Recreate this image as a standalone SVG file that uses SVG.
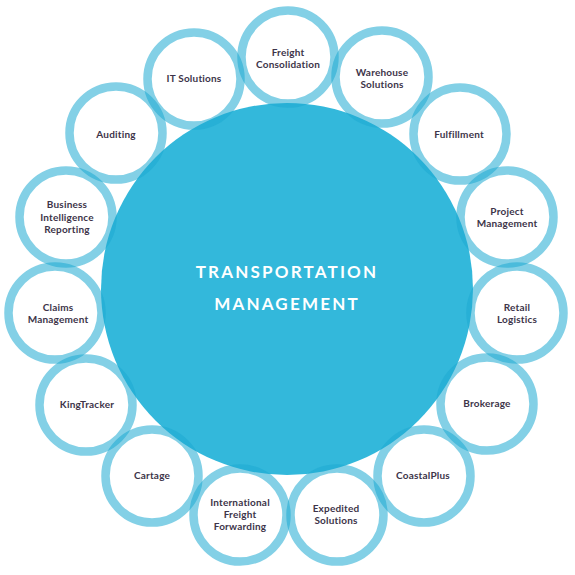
<svg xmlns="http://www.w3.org/2000/svg" width="575" height="575" viewBox="0 0 575 575">
<style>
.ring{fill:none;stroke:#1ea9d1;stroke-width:8.5;stroke-opacity:0.55}
.lbl{font-family:Lato,"Liberation Sans",sans-serif;font-weight:700;font-size:10px;fill:#3d3449;text-anchor:middle;letter-spacing:0.2px}
.main{font-family:Lato,"Liberation Sans",sans-serif;font-weight:700;font-size:17px;fill:#ffffff;text-anchor:middle;letter-spacing:2.2px}
</style>
<rect width="575" height="575" fill="#ffffff"/>
<g id="center">
<circle cx="287" cy="289" r="186" fill="#33b8db"/>
<text class="main" x="287" y="278">TRANSPORTATION</text>
<text class="main" x="287" y="310">MANAGEMENT</text>
</g>
<g id="connectors"></g>
<g id="n-freight"><circle class="ring" cx="288" cy="57" r="46.5"/><text class="lbl" x="288" y="56">Freight</text><text class="lbl" x="288" y="68">Consolidation</text></g>
<g id="n-it"><circle class="ring" cx="194" cy="79" r="46.5"/><text class="lbl" x="194" y="82">IT Solutions</text></g>
<g id="n-warehouse"><circle class="ring" cx="382" cy="77" r="46.5"/><text class="lbl" x="382" y="76">Warehouse</text><text class="lbl" x="382" y="88">Solutions</text></g>
<g id="n-auditing"><circle class="ring" cx="116" cy="133" r="46.5"/><text class="lbl" x="116" y="138">Auditing</text></g>
<g id="n-fulfillment"><circle class="ring" cx="460" cy="134" r="46.5"/><text class="lbl" x="459" y="138">Fulfillment</text></g>
<g id="n-bi"><circle class="ring" cx="66" cy="217" r="46.5"/><text class="lbl" x="67" y="208">Business</text><text class="lbl" x="67" y="221">Intelligence</text><text class="lbl" x="67" y="233">Reporting</text></g>
<g id="n-project"><circle class="ring" cx="507" cy="217" r="46.5"/><text class="lbl" x="507" y="215">Project</text><text class="lbl" x="507" y="227">Management</text></g>
<g id="n-claims"><circle class="ring" cx="55" cy="313" r="46.5"/><text class="lbl" x="58" y="311">Claims</text><text class="lbl" x="58" y="323">Management</text></g>
<g id="n-retail"><circle class="ring" cx="517" cy="313" r="46.5"/><text class="lbl" x="517" y="311">Retail</text><text class="lbl" x="517" y="323">Logistics</text></g>
<g id="n-kingtracker"><circle class="ring" cx="86" cy="405" r="46.5"/><text class="lbl" x="87" y="408">KingTracker</text></g>
<g id="n-brokerage"><circle class="ring" cx="487" cy="404" r="46.5"/><text class="lbl" x="487" y="407">Brokerage</text></g>
<g id="n-cartage"><circle class="ring" cx="152" cy="476" r="46.5"/><text class="lbl" x="152" y="479">Cartage</text></g>
<g id="n-coastal"><circle class="ring" cx="424" cy="476" r="46.5"/><text class="lbl" x="423" y="479">CoastalPlus</text></g>
<g id="n-international"><circle class="ring" cx="240" cy="515" r="46.5"/><text class="lbl" x="240" y="506">International</text><text class="lbl" x="240" y="518">Freight</text><text class="lbl" x="240" y="530">Forwarding</text></g>
<g id="n-expedited"><circle class="ring" cx="337" cy="515" r="46.5"/><text class="lbl" x="336" y="512">Expedited</text><text class="lbl" x="336" y="524">Solutions</text></g>
</svg>
